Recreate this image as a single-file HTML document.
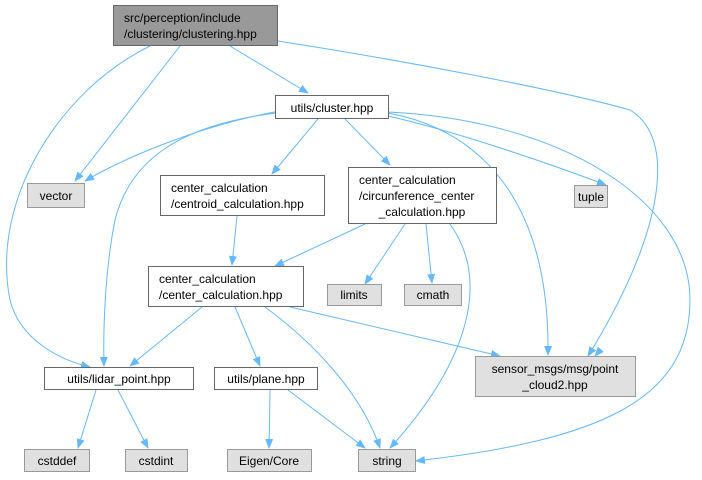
<!DOCTYPE html>
<html><head><style>body{margin:0;background:#fff}svg{display:block}text{font-family:"Liberation Sans",Arial,sans-serif;font-size:12px;fill:#000}</style></head><body>
<svg width="702" height="480" viewBox="0 0 702 480" xmlns="http://www.w3.org/2000/svg">
<defs><marker id="a" viewBox="0 0 10 10" refX="9" refY="5" markerWidth="10" markerHeight="10" markerUnits="userSpaceOnUse" orient="auto"><path d="M0,1 L10,5 L0,9 z" fill="#63b8ff"/></marker></defs>
<g fill="none" stroke="#63b8ff" stroke-width="1" marker-end="url(#a)">
<path d="M150,46 C60,90 -10,200 10,300 C20,340 60,360 90,367"/>
<path d="M180,46 L75,181"/>
<path d="M230,46 L308,93"/>
<path d="M278,41 C400,60 560,90 630,110 C680,140 660,240 588,356"/>
<path d="M280,111 C200,125 120,160 85,181"/>
<path d="M276,113 C180,125 130,160 115,220 C105,270 103,330 104,366"/>
<path d="M318,119 L272,174"/>
<path d="M345,119 L390,165"/>
<path d="M388,116 C450,130 540,160 606,185"/>
<path d="M388,113 C480,130 550,200 548,355"/>
<path d="M388,112 C560,120 690,200 690,300 C690,400 600,440 416,461"/>
<path d="M237,216 L232,265"/>
<path d="M365,224 L275,266"/>
<path d="M405,224 L365,284"/>
<path d="M426,224 L432,283"/>
<path d="M450,224 C490,280 470,360 390,448"/>
<path d="M202,307 L130,366"/>
<path d="M235,307 L260,366"/>
<path d="M265,307 C310,340 360,390 380,448"/>
<path d="M290,307 L500,356"/>
<path d="M280,41 C400,60 520,80 600,100 C700,150 670,270 595,356" stroke="none"/>
<path d="M96,390 L78,448"/>
<path d="M118,390 L148,448"/>
<path d="M270,390 L269,448"/>
<path d="M288,390 L365,448"/>
</g>
<g stroke-width="1">
<rect x="113.5" y="5.5" width="164" height="40" fill="#999" stroke="#666"/>
<rect x="275.5" y="95.5" width="113" height="23" fill="#fff" stroke="#666"/>
<rect x="27.5" y="183.5" width="57" height="24" fill="#e0e0e0" stroke="#999"/>
<rect x="160.5" y="175.5" width="164" height="40" fill="#fff" stroke="#666"/>
<rect x="348.5" y="167.5" width="148" height="56" fill="#fff" stroke="#666"/>
<rect x="574.5" y="185.5" width="33" height="22" fill="#e0e0e0" stroke="#999"/>
<rect x="148.5" y="266.5" width="155" height="40" fill="#fff" stroke="#666"/>
<rect x="327.5" y="284.5" width="54" height="21" fill="#e0e0e0" stroke="#999"/>
<rect x="404.5" y="284.5" width="57" height="21" fill="#e0e0e0" stroke="#999"/>
<rect x="475.5" y="356.5" width="160" height="40" fill="#e0e0e0" stroke="#999"/>
<rect x="44.5" y="367.5" width="149" height="22" fill="#fff" stroke="#666"/>
<rect x="214.5" y="367.5" width="103" height="22" fill="#fff" stroke="#666"/>
<rect x="24.5" y="449.5" width="65" height="22" fill="#e0e0e0" stroke="#999"/>
<rect x="125.5" y="449.5" width="62" height="22" fill="#e0e0e0" stroke="#999"/>
<rect x="227.5" y="449.5" width="84" height="22" fill="#e0e0e0" stroke="#999"/>
<rect x="358.5" y="449.5" width="57" height="22" fill="#e0e0e0" stroke="#999"/>
</g>
<text x="124" y="22">src/perception/include</text>
<text x="124" y="38">/clustering/clustering.hpp</text>
<text x="332" y="112" text-anchor="middle">utils/cluster.hpp</text>
<text x="56" y="200" text-anchor="middle">vector</text>
<text x="171" y="192">center_calculation</text>
<text x="171" y="208">/centroid_calculation.hpp</text>
<text x="359" y="184">center_calculation</text>
<text x="359" y="200">/circunference_center</text>
<text x="422" y="216" text-anchor="middle">_calculation.hpp</text>
<text x="591" y="201" text-anchor="middle">tuple</text>
<text x="159" y="283">center_calculation</text>
<text x="159" y="299">/center_calculation.hpp</text>
<text x="354" y="299" text-anchor="middle">limits</text>
<text x="433" y="299" text-anchor="middle">cmath</text>
<text x="555" y="373" text-anchor="middle">sensor_msgs/msg/point</text>
<text x="555" y="389" text-anchor="middle">_cloud2.hpp</text>
<text x="119" y="383" text-anchor="middle">utils/lidar_point.hpp</text>
<text x="266" y="383" text-anchor="middle">utils/plane.hpp</text>
<text x="57" y="465" text-anchor="middle">cstddef</text>
<text x="156" y="465" text-anchor="middle">cstdint</text>
<text x="269" y="465" text-anchor="middle">Eigen/Core</text>
<text x="387" y="465" text-anchor="middle">string</text>
</svg>
</body></html>
